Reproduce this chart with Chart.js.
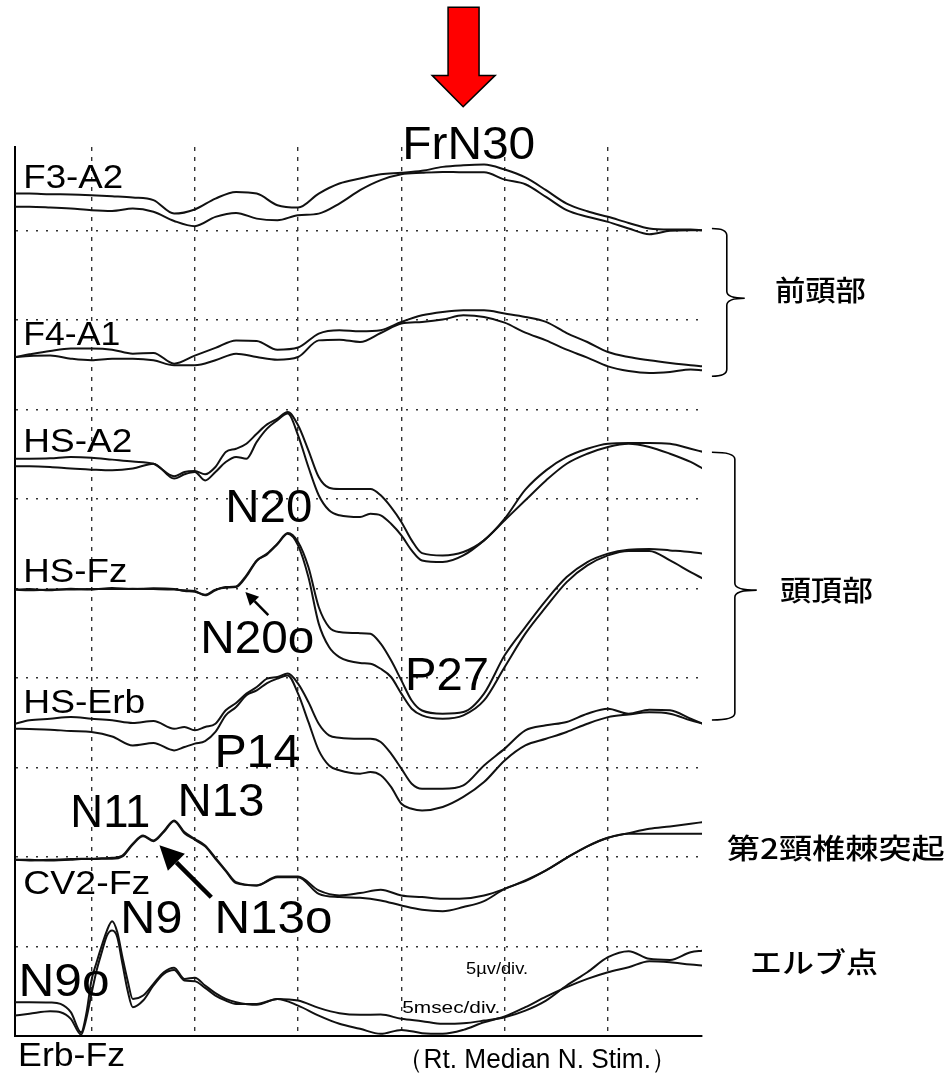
<!DOCTYPE html>
<html lang="ja">
<head>
<meta charset="utf-8">
<title>SEP (Rt. Median N. Stim.)</title>
<script src="https://cdn.jsdelivr.net/npm/chart.js@4.4.1/dist/chart.umd.min.js"></script>
<style>
  html, body { margin: 0; padding: 0; background: #fff; }
  #wrap { position: relative; width: 947px; height: 1076px; }
</style>
</head>
<body>
<div id="wrap"><canvas id="sep"></canvas></div>
<script>
// Sample times (ms) for each group of channels, 5 ms/div
const slowTimes = [6.3, 7, 8, 9, 10, 11, 12, 13, 14, 15, 16, 17, 18, 19, 20, 21, 22, 23, 24, 25, 26, 27, 28, 29, 30, 31, 32, 33, 34, 35, 36, 37, 38, 39, 39.6];
const hsTimes = [6.3, 7, 8, 9, 10, 11, 12, 13, 14, 14.5, 15, 15.5, 16, 16.5, 17, 17.5, 18, 18.5, 19, 19.5, 20, 20.5, 21, 21.5, 22, 23, 23.5, 24, 24.5, 25, 25.5, 26, 27, 28, 29, 30, 31, 32, 33, 34, 35, 36, 37, 38, 39, 39.6];
const cvTimes = [6.3, 7, 8, 9, 9.5, 10, 10.5, 11, 11.5, 12, 12.5, 13, 13.5, 14, 14.5, 15, 15.5, 16, 16.5, 17, 18, 19, 20, 21, 22, 23, 24, 25, 26, 27, 28, 29, 30, 31, 32, 33, 34, 35, 36, 37, 38, 39, 39.6];
const erbTimes = [6.3, 7, 8, 8.5, 9, 9.5, 9.75, 10, 10.25, 10.5, 10.75, 11, 11.25, 11.5, 11.75, 12, 12.5, 13, 13.5, 14, 14.5, 15, 15.5, 16, 16.5, 17, 18, 19, 20, 21, 22, 23, 24, 25, 26, 27, 28, 29, 30, 31, 32, 33, 34, 35, 36, 37, 38, 39, 39.6];

// Amplitudes (µV, up = negative), two superimposed runs per channel
const f3a2Run1 = [0.55, 0.55, 0.51, 0.50, 0.46, 0.40, 0.33, 0.18, -0.57, -0.34, 0.27, 0.64, 0.55, -0.10, -0.23, 0.55, 1.11, 1.39, 1.63, 1.71, 1.82, 2.04, 2.13, 2.17, 1.89, 1.45, 0.74, -0.01, -0.44, -0.75, -1.09, -1.40, -1.46, -1.46, -1.50];
const f3a2Run2 = [-0.19, -0.19, -0.23, -0.29, -0.38, -0.42, -0.29, -0.47, -0.98, -1.27, -0.75, -0.53, -0.85, -0.94, -0.66, -0.57, -0.01, 0.74, 1.30, 1.63, 1.71, 1.76, 1.74, 1.74, 1.33, 1.07, 0.36, -0.38, -0.75, -1.03, -1.40, -1.72, -1.53, -1.50, -1.50];
const f4a1Run1 = [-0.08, 0.07, 0.26, 0.39, 0.39, 0.33, 0.11, 0.15, -0.45, 0.00, 0.43, 0.85, 0.82, 0.33, 0.45, 1.23, 1.42, 1.36, 1.42, 1.88, 2.25, 2.44, 2.53, 2.53, 2.35, 2.16, 1.88, 1.26, 0.76, 0.20, -0.08, -0.26, -0.41, -0.54, -0.60];
const f4a1Run2 = [-0.08, -0.02, 0.00, -0.17, -0.26, -0.17, -0.17, -0.26, -0.54, -0.54, -0.26, 0.11, -0.08, -0.23, -0.08, 0.85, 0.89, 0.76, 1.26, 1.79, 1.88, 2.01, 2.25, 2.16, 1.84, 1.28, 0.85, 0.33, -0.11, -0.60, -0.86, -0.97, -0.91, -0.78, -0.82];
const hsA2Run1 = [0.24, 0.24, 0.26, 0.34, 0.30, 0.19, 0.08, -0.04, -0.74, -0.50, -0.45, -0.63, -0.22, 0.62, 0.80, 1.08, 1.64, 2.16, 2.48, 2.85, 2.11, 0.71, -0.78, -1.38, -1.45, -1.45, -1.45, -1.80, -2.46, -3.29, -4.32, -5.03, -5.16, -4.97, -4.32, -3.11, -1.49, -0.41, 0.34, 0.80, 1.08, 1.12, 1.12, 1.08, 0.80, 0.62];
const hsA2Run2 = [-0.18, -0.18, -0.22, -0.31, -0.37, -0.41, -0.31, -0.04, -0.87, -0.63, -0.50, -0.97, -0.50, 0.06, 0.34, 0.24, 1.18, 1.92, 2.39, 2.76, 1.55, -0.22, -1.80, -2.64, -2.92, -3.02, -2.83, -2.92, -3.39, -4.04, -4.88, -5.44, -5.53, -5.16, -4.32, -3.20, -2.08, -0.97, -0.04, 0.52, 0.90, 1.08, 0.90, 0.52, 0.06, -0.31];
const hsFzRun1 = [-0.07, -0.11, -0.07, -0.07, -0.04, -0.04, -0.02, -0.04, -0.07, -0.11, -0.15, -0.39, -0.11, 0.07, 0.11, 0.73, 1.56, 1.94, 2.50, 3.09, 2.59, 1.19, -1.04, -2.16, -2.44, -2.50, -2.53, -3.09, -4.02, -5.14, -6.26, -6.82, -7.00, -6.91, -5.88, -3.74, -2.16, -0.67, 0.63, 1.47, 1.94, 2.16, 2.20, 2.12, 2.03, 1.94];
const hsFzRun2 = [-0.07, -0.04, -0.11, -0.02, -0.07, 0.02, -0.04, 0.00, -0.04, -0.15, -0.19, -0.35, -0.07, 0.04, 0.07, 0.67, 1.53, 1.90, 2.46, 3.05, 2.40, 0.63, -1.97, -3.28, -3.84, -4.17, -4.21, -4.49, -4.95, -5.88, -6.72, -7.09, -7.28, -7.09, -6.26, -4.39, -2.53, -1.04, 0.35, 1.28, 1.84, 2.09, 2.09, 1.56, 0.91, 0.54];
const hsErbRun1 = [-0.06, 0.13, 0.22, 0.31, 0.22, 0.13, -0.02, 0.09, -0.34, -0.24, -0.43, -0.24, -0.06, 0.69, 1.10, 1.62, 1.99, 2.46, 2.55, 2.74, 2.18, 1.15, -0.06, -0.71, -0.84, -0.90, -0.90, -1.08, -1.73, -2.57, -3.41, -3.69, -3.69, -3.50, -2.39, -1.45, -0.43, -0.15, 0.04, 0.50, 0.78, 0.50, 0.72, 0.69, 0.22, -0.06];
const hsErbRun2 = [-0.34, -0.36, -0.39, -0.47, -0.52, -0.77, -1.27, -1.14, -1.55, -1.36, -1.17, -1.03, -0.52, 0.41, 0.87, 1.53, 1.80, 2.21, 2.46, 2.64, 1.62, 0.04, -1.55, -2.39, -2.66, -2.85, -2.76, -2.94, -3.59, -4.53, -4.81, -4.90, -4.71, -4.15, -3.32, -2.11, -1.27, -0.90, -0.52, -0.06, 0.31, 0.46, 0.58, 0.50, 0.13, -0.06];
const cv2FzRun1 = [-0.16, -0.20, -0.16, -0.12, -0.10, -0.10, -0.07, -0.05, 0.08, 0.74, 1.20, 0.92, 1.44, 2.04, 1.39, 1.01, 0.64, -0.05, -0.75, -1.41, -1.59, -1.09, -1.09, -1.87, -2.15, -2.02, -1.83, -2.15, -2.24, -2.34, -2.32, -2.15, -1.78, -1.31, -0.75, -0.05, 0.59, 1.07, 1.33, 1.57, 1.70, 1.85, 1.95];
const cv2FzRun2 = [-0.16, -0.16, -0.20, -0.16, -0.12, -0.12, -0.10, -0.10, 0.03, 0.70, 1.15, 0.88, 1.39, 2.00, 1.33, 0.96, 0.59, -0.10, -0.79, -1.46, -1.59, -1.13, -1.13, -2.06, -2.24, -2.28, -2.43, -2.71, -2.95, -3.03, -2.80, -2.47, -1.78, -1.35, -0.75, -0.05, 0.59, 1.07, 1.29, 1.29, 1.29, 1.29, 1.29];
const erbFzRun1 = [0.39, 0.39, 0.37, 0.29, -0.17, -1.29, -0.26, 1.60, 2.62, 3.55, 4.39, 4.91, 4.30, 2.90, 1.60, 0.57, 0.76, 1.41, 2.06, 2.31, 1.69, 1.75, 1.32, 0.89, 0.57, 0.39, 0.24, 0.57, 0.48, 0.07, -0.23, -0.32, -0.30, -0.54, -0.67, -0.82, -0.79, -0.64, -0.45, -0.08, 0.48, 1.32, 2.06, 2.90, 3.24, 2.81, 2.75, 3.18, 3.27];
const erbFzRun2 = [-0.36, -0.26, -0.12, -0.17, -0.54, -1.42, -0.54, 0.85, 2.16, 3.18, 4.11, 4.39, 4.02, 2.53, 1.04, 0.11, 0.48, 1.32, 1.97, 2.19, 1.60, 1.56, 1.19, 0.76, 0.48, 0.29, 0.29, 0.57, 0.20, -0.36, -0.82, -1.10, -1.38, -1.16, -1.34, -1.38, -1.16, -0.73, -0.41, 0.11, 0.70, 1.23, 1.69, 2.06, 2.34, 2.68, 2.62, 2.49, 2.44];

const UV_PER_DIV = 5;

// Channel montage: baseline in divisions from the bottom of the trace area
const channels = [
  { name: "F3-A2", offset: 9.3, times: slowTimes, runs: [f3a2Run1, f3a2Run2] },
  { name: "F4-A1", offset: 7.6, times: slowTimes, runs: [f4a1Run1, f4a1Run2] },
  { name: "HS-A2", offset: 6.4, times: hsTimes, runs: [hsA2Run1, hsA2Run2] },
  { name: "HS-Fz", offset: 5.0, times: hsTimes, runs: [hsFzRun1, hsFzRun2] },
  { name: "HS-Erb", offset: 3.5, times: hsTimes, runs: [hsErbRun1, hsErbRun2] },
  { name: "CV2-Fz", offset: 2.0, times: cvTimes, runs: [cv2FzRun1, cv2FzRun2] },
  { name: "Erb-Fz", offset: 0.3, times: erbTimes, runs: [erbFzRun1, erbFzRun2] },
];

const latin = '"Liberation Sans", Arial, sans-serif';
const cjk = '"Noto Sans CJK JP", sans-serif';

// Annotations, placed in (ms, div) coordinates
const channelLabels = [
  { text: "F3-A2", t: 6.7, v: 9.47, w: 100 },
  { text: "F4-A1", t: 6.7, v: 7.72, w: 97 },
  { text: "HS-A2", t: 6.7, v: 6.52, w: 109 },
  { text: "HS-Fz", t: 6.7, v: 5.07, w: 104 },
  { text: "HS-Erb", t: 6.7, v: 3.61, w: 122 },
  { text: "CV2-Fz", t: 6.7, v: 1.59, w: 127 },
  { text: "Erb-Fz", t: 6.45, v: -0.33, w: 107 },
];
const peakLabels = [
  { text: "FrN30", t: 25.04, v: 9.80, w: 133 },
  { text: "N20", t: 16.48, v: 5.74, w: 87 },
  { text: "N20o", t: 15.27, v: 4.28, w: 114 },
  { text: "P27", t: 25.18, v: 3.86, w: 84 },
  { text: "P14", t: 15.95, v: 3.00, w: 86 },
  { text: "N11", t: 8.98, v: 2.33, w: 80 },
  { text: "N13", t: 14.16, v: 2.46, w: 87 },
  { text: "N9", t: 11.40, v: 1.15, w: 62 },
  { text: "N13o", t: 15.95, v: 1.15, w: 118 },
  { text: "N9o", t: 6.47, v: 0.45, w: 91 },
];
const noteLabels = [
  { text: "5µv/div.", t: 28.13, v: 0.69, w: 62, size: 17 },
  { text: "5msec/div.", t: 25.04, v: 0.26, w: 98, size: 17 },
  { text: "（Rt. Median N. Stim.）", t: 24.8, v: -0.36, w: 280, size: 27 },
];
const regionLabels = [
  { text: "前頭部", t: 43.08, v: 8.33, w: 91 },
  { text: "頭頂部", t: 43.32, v: 4.98, w: 93 },
  { text: "第2頸椎棘突起", t: 40.75, v: 2.10, w: 218 },
  { text: "エルブ点", t: 41.87, v: 0.82, w: 128 },
];
const braces = [
  { tLeft: 40.03, tSpine: 40.75, tTip: 41.62, vTop: 9.02, vMid: 8.24, vBot: 7.37 },
  { tLeft: 40.03, tSpine: 41.14, tTip: 42.2, vTop: 6.52, vMid: 4.98, vBot: 3.53 },
];
const arrows = [
  { from: [18.56, 4.70], to: [17.45, 4.96], width: 2.5, head: 13 },
  { from: [15.80, 1.55], to: [13.29, 2.13], width: 4.5, head: 24 },
];
const stimArrow = { tl: 26.49, ts0: 27.26, tc: 27.99, ts1: 28.76, tr: 29.54, vTop: 11.49, vNeck: 10.73, vTip: 10.38 };

function drawText(ctx, text, x, y, font, width, baseline) {
  ctx.save();
  ctx.font = font;
  ctx.textBaseline = baseline || "alphabetic";
  ctx.fillStyle = "#000";
  const sx = width / ctx.measureText(text).width;
  ctx.translate(x, y);
  ctx.scale(sx, 1);
  ctx.fillText(text, 0, 0);
  ctx.restore();
}

const annotationPlugin = {
  id: "sepAnnotations",
  afterDraw(chart) {
    const { ctx } = chart;
    const X = (t) => chart.scales.x.getPixelForValue(t);
    const Y = (v) => chart.scales.y.getPixelForValue(v);

    channelLabels.forEach((l) => drawText(ctx, l.text, X(l.t), Y(l.v), `34px ${latin}`, l.w));
    peakLabels.forEach((l) => drawText(ctx, l.text, X(l.t), Y(l.v), `46px ${latin}`, l.w));
    noteLabels.forEach((l) => drawText(ctx, l.text, X(l.t), Y(l.v), `${l.size}px ${latin}`, l.w));
    regionLabels.forEach((l) => drawText(ctx, l.text, X(l.t), Y(l.v), `500 28px ${cjk}`, l.w, "middle"));

    // braces for 前頭部 / 頭頂部
    ctx.save();
    ctx.strokeStyle = "#000";
    ctx.lineWidth = 1.6;
    braces.forEach((b) => {
      const x0 = X(b.tLeft), xs = X(b.tSpine), xt = X(b.tTip);
      const y0 = Y(b.vTop), ym = Y(b.vMid), y1 = Y(b.vBot);
      const r = 7;
      ctx.beginPath();
      ctx.moveTo(x0, y0);
      ctx.quadraticCurveTo(xs, y0, xs, y0 + r);
      ctx.lineTo(xs, ym - r);
      ctx.quadraticCurveTo(xs, ym, xt, ym);
      ctx.quadraticCurveTo(xs, ym, xs, ym + r);
      ctx.lineTo(xs, y1 - r);
      ctx.quadraticCurveTo(xs, y1, x0, y1);
      ctx.stroke();
    });
    ctx.restore();

    // black pointer arrows (N20o, N13o)
    ctx.save();
    ctx.strokeStyle = "#000";
    ctx.fillStyle = "#000";
    arrows.forEach((a) => {
      const x0 = X(a.from[0]), y0 = Y(a.from[1]);
      const x1 = X(a.to[0]), y1 = Y(a.to[1]);
      const ang = Math.atan2(y1 - y0, x1 - x0);
      const bx = x1 - a.head * Math.cos(ang), by = y1 - a.head * Math.sin(ang);
      ctx.lineWidth = a.width;
      ctx.beginPath();
      ctx.moveTo(x0, y0);
      ctx.lineTo(bx, by);
      ctx.stroke();
      const hw = a.head * 0.5;
      ctx.beginPath();
      ctx.moveTo(x1, y1);
      ctx.lineTo(bx + hw * Math.sin(ang), by - hw * Math.cos(ang));
      ctx.lineTo(bx - hw * Math.sin(ang), by + hw * Math.cos(ang));
      ctx.closePath();
      ctx.fill();
    });
    ctx.restore();

    // red arrow above FrN30
    const s = stimArrow;
    ctx.save();
    ctx.beginPath();
    ctx.moveTo(X(s.ts0), Y(s.vTop));
    ctx.lineTo(X(s.ts1), Y(s.vTop));
    ctx.lineTo(X(s.ts1), Y(s.vNeck));
    ctx.lineTo(X(s.tr), Y(s.vNeck));
    ctx.lineTo(X(s.tc), Y(s.vTip));
    ctx.lineTo(X(s.tl), Y(s.vNeck));
    ctx.lineTo(X(s.ts0), Y(s.vNeck));
    ctx.closePath();
    ctx.fillStyle = "#ff0000";
    ctx.fill();
    ctx.strokeStyle = "#000";
    ctx.lineWidth = 1.5;
    ctx.stroke();
    ctx.restore();
  },
};

const datasets = channels.flatMap((ch) =>
  ch.runs.map((run, k) => ({
    label: `${ch.name} #${k + 1}`,
    data: ch.times.map((t, i) => ({ x: t, y: ch.offset + run[i] / UV_PER_DIV })),
    borderColor: "#111",
    borderWidth: 2,
    pointRadius: 0,
    fill: false,
    cubicInterpolationMode: "monotone",
  }))
);

new Chart(document.getElementById("sep"), {
  type: "line",
  data: { datasets },
  options: {
    responsive: true,
    maintainAspectRatio: false,
    animation: false,
    devicePixelRatio: 1,
    layout: { padding: { left: 15, right: 245, top: 147, bottom: 40 } },
    plugins: { legend: { display: false }, tooltip: { enabled: false } },
    scales: {
      x: {
        type: "linear",
        min: 6.3,
        max: 39.55,
        ticks: { display: false, stepSize: 5 },
        grid: {
          drawTicks: false,
          lineWidth: 1.4,
          color: (c) => (c.tick && c.tick.value % 5 === 0 ? "#333" : "rgba(0,0,0,0)"),
        },
        border: { display: true, color: "#000", width: 2, dash: [4, 6] },
      },
      y: {
        type: "linear",
        min: 0,
        max: 9.93,
        ticks: { display: false, stepSize: 1 },
        grid: {
          drawTicks: false,
          lineWidth: 1.5,
          color: (c) => (c.tick && c.tick.value > 0 && Number.isInteger(c.tick.value) ? "#333" : "rgba(0,0,0,0)"),
        },
        border: { display: true, color: "#000", width: 2, dash: [2, 8] },
      },
    },
  },
  plugins: [annotationPlugin],
});
</script>
</body>
</html>
